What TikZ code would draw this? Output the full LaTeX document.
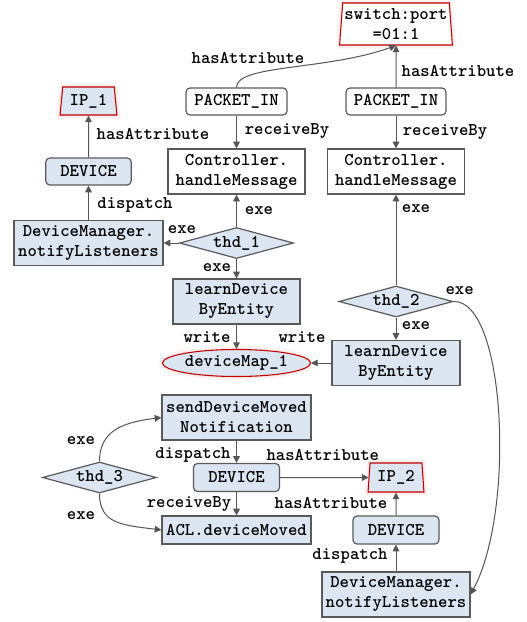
\documentclass[tikz,border=0pt]{standalone}
\usepackage{fontspec}
\newfontfamily\labelfont{lmmonolt10-bold.otf}
\usetikzlibrary{shapes.geometric,arrows.meta}
\definecolor{boxblue}{HTML}{DCE6F2}
\definecolor{edgegray}{HTML}{555555}
\definecolor{framegray}{HTML}{5A5A5A}
\definecolor{hotred}{HTML}{C00000}
\begin{document}
\begin{tikzpicture}[x=0.75pt,y=-0.75pt,
  every node/.style={font=\labelfont\fontsize{13.4}{15}\selectfont, inner sep=0pt, align=center},
  box/.style={rectangle, draw=framegray, line width=0.9pt},
  whitebox/.style={box, fill=white},
  bluebox/.style={box, fill=boxblue},
  soft/.style={rounded corners=3pt},
  glow/.style={preaction={draw=hotred, draw opacity=0.035, line width=6pt},
               preaction={draw=hotred, draw opacity=0.05, line width=3pt}},
  attr/.style={trapezium, trapezium stretches=true, draw=hotred, line width=0.8pt, glow},
  thread/.style={diamond, shape aspect=3.6, draw=framegray, fill=boxblue, line width=0.9pt,
                 minimum width=85.5pt, minimum height=23.25pt},
  arr/.style={draw=edgegray, line width=0.75pt, -{Triangle[length=5pt,width=5pt]}},
  lbl/.style={anchor=center}
]
\useasboundingbox (0,0) rectangle (526,622);

% attribute nodes
\node[attr, fill=white, trapezium angle=84.5, minimum width=84.75pt, minimum height=31.5pt] (sw) at (396,24) {switch:port\\=01:1};
\node[attr, fill=boxblue, trapezium angle=82, minimum width=42.75pt, minimum height=21pt] (ip1) at (88.5,101) {IP\_1};
\node[attr, fill=boxblue, trapezium angle=84, minimum width=42pt, minimum height=21.75pt] (ip2) at (396,477.5) {IP\_2};

% upper part
\node[whitebox, soft, minimum width=75.75pt, minimum height=20.25pt] (pin1) at (236.5,101.5) {PACKET\_IN};
\node[whitebox, soft, minimum width=75pt, minimum height=20.25pt] (pin2) at (396,101.5) {PACKET\_IN};
\node[bluebox, soft, minimum width=64pt, minimum height=20.25pt] (dev1) at (88.5,171.5) {DEVICE};
\node[whitebox, minimum width=102.75pt, minimum height=33.75pt] (ctl1) at (236.5,171.5) {Controller.\\handleMessage};
\node[whitebox, minimum width=102.75pt, minimum height=33.75pt] (ctl2) at (396,171.5) {Controller.\\handleMessage};
\node[bluebox, minimum width=111.75pt, minimum height=33.75pt] (dm1) at (88.5,243) {DeviceManager.\\notifyListeners};
\node[thread] (t1) at (236.5,243) {thd\_1};
\node[bluebox, minimum width=95.25pt, minimum height=33.75pt] (lb1) at (236.5,301.5) {learnDevice\\ByEntity};
\node[thread] (t2) at (396,301.5) {thd\_2};
\node[ellipse, draw=hotred, fill=boxblue, line width=0.8pt, glow, minimum width=111pt, minimum height=20.25pt] (map) at (236.5,363) {deviceMap\_1};
\node[bluebox, minimum width=96pt, minimum height=33.75pt] (lb2) at (396,363) {learnDevice\\ByEntity};

% lower part
\node[bluebox, minimum width=111.75pt, minimum height=33.75pt] (sdm) at (236.5,417.5) {sendDeviceMoved\\Notification};
\node[thread] (t3) at (99.5,477.5) {thd\_3};
\node[bluebox, soft, minimum width=64.5pt, minimum height=21pt] (dev2) at (236.5,477.5) {DEVICE};
\node[bluebox, minimum width=111.75pt, minimum height=21pt] (acl) at (236.5,530) {ACL.deviceMoved};
\node[bluebox, soft, minimum width=64.5pt, minimum height=21pt] (dev3) at (396,530) {DEVICE};
\node[bluebox, minimum width=111pt, minimum height=33.75pt] (dm2) at (396,594.5) {DeviceManager.\\notifyListeners};

% connectors
\draw[arr] (pin1.north) .. controls +(0,-23) and +(-70,25) .. node[lbl, pos=0, shift={(11.5,-29)}] {hasAttribute} (sw.south);
\draw[arr] (pin2.north) -- node[lbl, shift={(62,4.5)}] {hasAttribute} (sw.south);
\draw[arr] (pin1) -- node[lbl, shift={(50.5,-1)}] {receiveBy} (ctl1);
\draw[arr] (pin2) -- node[lbl, shift={(49,0)}] {receiveBy} (ctl2);
\draw[arr] (dev1) -- node[lbl, shift={(64.5,-2.5)}] {hasAttribute} (ip1.south);
\draw[arr] (dm1) -- node[lbl, shift={(46.5,2.25)}] {dispatch} (dev1);
\draw[arr] (t1) -- node[lbl, shift={(22.5,0.25)}] {exe} (ctl1);
\draw[arr] (t1) -- node[lbl, shift={(10.75,-13)}] {exe} (dm1);
\draw[arr] (t1) -- node[lbl, shift={(-19.5,-0.75)}] {exe} (lb1);
\draw[arr] (lb1) -- node[lbl, shift={(-29.5,0.25)}] {write} (map);
\draw[arr] (lb2) -- node[lbl, shift={(-19.25,-26)}] {write} (map);
\draw[arr] (t2) -- node[lbl, shift={(20,-31)}] {exe} (ctl2);
\draw[arr] (t2) -- node[lbl, shift={(20,-2.75)}] {exe} (lb2);
\draw[arr] (t2.east) .. controls +(52,-1.5) and +(45,-84.5) .. node[lbl, pos=0, shift={(6,-10.5)}] {exe} (dm2.east);
\draw[arr] (t3.north) .. controls +(0,-30) and +(-40,5) .. node[lbl, pos=0, shift={(-18.5,-21)}] {exe} (sdm.west);
\draw[arr] (t3.south) .. controls +(0,30) and +(-40,-5) .. node[lbl, pos=0, shift={(-18.5,22)}] {exe} (acl.west);
\draw[arr] (sdm) -- node[lbl, shift={(-43.5,3.25)}] {dispatch} (dev2);
\draw[arr] (dev2) -- node[lbl, shift={(-1.5,-22.5)}] {hasAttribute} (ip2);
\draw[arr] (dev2) -- node[lbl, shift={(-47.5,0.25)}] {receiveBy} (acl);
\draw[arr] (dev3) -- node[lbl, shift={(-65,-1)}] {hasAttribute} (ip2.south);
\draw[arr] (dm2) -- node[lbl, shift={(-46,-2)}] {dispatch} (dev3);
\end{tikzpicture}
\end{document}
